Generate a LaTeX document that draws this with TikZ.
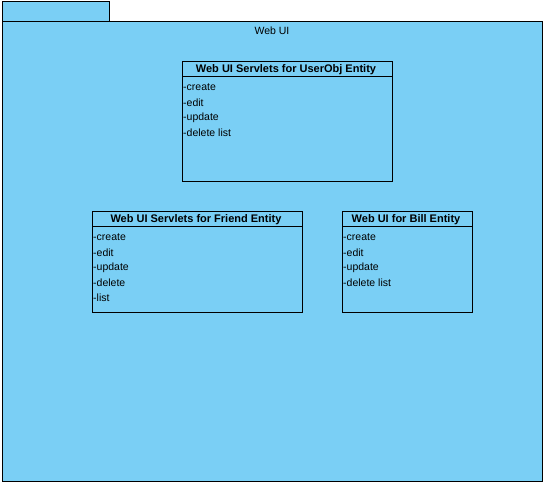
\documentclass[tikz,border=0pt]{standalone}
\usepackage{fontspec}
\setmainfont{Liberation Sans}
\definecolor{pkg}{HTML}{7ACFF5}
\begin{document}
\begin{tikzpicture}[x=1pt,y=-1pt,
  frame/.style={draw=black,fill=pkg,line width=1pt},
  cls/.style={draw=black,line width=1pt},
  title/.style={font=\fontsize{11}{12}\selectfont\bfseries,anchor=center,inner sep=0pt},
  item/.style={font=\fontsize{10.5}{12}\selectfont,anchor=west,inner sep=0pt},
  lbl/.style={font=\fontsize{10.5}{12}\selectfont,inner sep=0pt}]
\useasboundingbox (0,0) rectangle (546,486);
% package
\draw[frame] (2,2) rectangle (109,22);
\draw[frame] (2,22) rectangle (542,481);
\node[lbl] (pkgname) at (272,30.5) {Web UI};
% UserObj
\draw[cls] (182,62) rectangle (392,182);
\draw[cls] (182,77) -- (392,77);
\node[title] (t1) at (286,69.5) {Web UI Servlets for UserObj Entity};
\node[item] (a1) at (183,87.5) {-create};
\node[item] (a2) at (183,102.5) {-edit};
\node[item] (a3) at (183,117.5) {-update};
\node[item] (a4) at (183,132.5) {-delete list};
% Friend
\draw[cls] (92,212) rectangle (302,312);
\draw[cls] (92,227) -- (302,227);
\node[title] (t2) at (196,219.5) {Web UI Servlets for Friend Entity};
\node[item] (b1) at (93,237.5) {-create};
\node[item] (b2) at (93,252.5) {-edit};
\node[item] (b3) at (93,267.5) {-update};
\node[item] (b4) at (93,282.5) {-delete};
\node[item] (b5) at (93,297.5) {-list};
% Bill
\draw[cls] (342,212) rectangle (472,312);
\draw[cls] (342,227) -- (472,227);
\node[title] (t3) at (406,219.5) {Web UI for Bill Entity};
\node[item] (c1) at (343,237.5) {-create};
\node[item] (c2) at (343,252.5) {-edit};
\node[item] (c3) at (343,267.5) {-update};
\node[item] (c4) at (343,282.5) {-delete list};
\end{tikzpicture}
\end{document}
